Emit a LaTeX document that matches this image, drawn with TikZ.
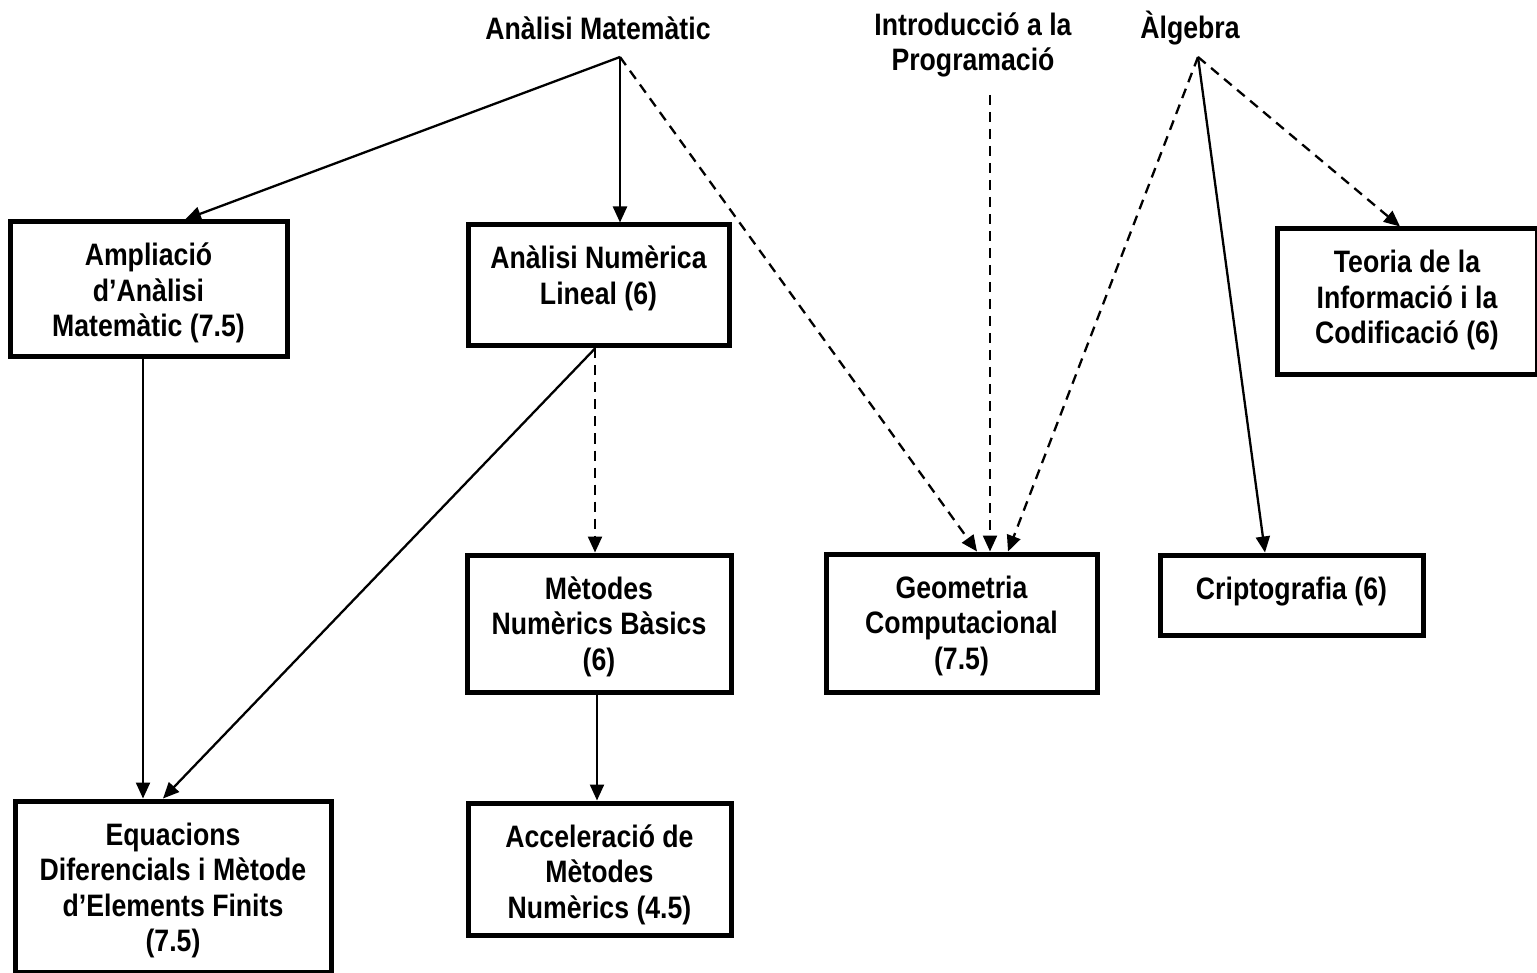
\documentclass[tikz,border=0pt]{standalone}
\usepackage{fontspec}
\setmainfont{Liberation Sans}[FakeStretch=0.86]
\usetikzlibrary{arrows.meta,calc}
\newcommand\bxt[3]{\parbox[t][#2pt][t]{#1pt}{\centering\bfseries\fontsize{31}{35.5}\selectfont\rule{0pt}{44pt}#3}}
\begin{document}
\begin{tikzpicture}[x=1pt,y=-1pt,
  box/.style={draw, line width=5pt, inner sep=0pt, outer sep=0pt, anchor=north west},
  lbl/.style={font=\bfseries\fontsize{31}{35.5}\selectfont, align=center, inner sep=0pt},
  arr/.style={line width=2.3pt, -{Triangle[length=16pt,width=14pt]}},
  dsh/.style={arr, dash pattern=on 10pt off 7pt},
]
\useasboundingbox (0,0) rectangle (1537,973);

% top labels
\node[lbl] (am) at (598,28) {Anàlisi Matemàtic};
\node[lbl] (ip) at (973,45) {Introducció a la\\Programació};
\node[lbl] (alg) at (1190,28) {Àlgebra};
\coordinate (amx) at (620,57);
\coordinate (ipx) at (990,95);
\coordinate (algx) at (1198,57);

% boxes
\node[box] (ampl) at (10,222) {\bxt{277}{135}{Ampliació\\d’Anàlisi\\Matemàtic (7.5)}};
\node[box] (anl) at (468,225) {\bxt{261}{121}{Anàlisi Numèrica\\Lineal (6)}};
\node[box] (teo) at (1277,229) {\bxt{260}{146}{Teoria de la\\Informació i la\\Codificació (6)}};
\node[box] (met) at (467,555) {\bxt{264}{137}{Mètodes\\Numèrics Bàsics\\(6)}};
\node[box] (geo) at (826,554) {\bxt{271}{138}{Geometria\\Computacional\\(7.5)}};
\node[box] (cri) at (1160,555) {\bxt{263}{80}{Criptografia (6)}};
\node[box] (equ) at (15,801) {\bxt{316}{171}{Equacions\\Diferencials i Mètode\\d’Elements Finits\\(7.5)}};
\node[box] (acc) at (468,803) {\bxt{263}{132}{Acceleració de\\Mètodes\\Numèrics (4.5)}};

% connectors
\draw[arr] (amx) -- ($(ampl.north west)+(175,-2.5)$);
\draw[arr] (amx) -- ($(anl.north -| amx)+(0,-2.5)$);
\draw[dsh] (amx) -- ($(geo.north west)+(151,-2.5)$);
\draw[dsh] (ipx) -- ($(geo.north west)+(164,-2.5)$);
\draw[dsh] (algx) -- ($(geo.north west)+(182,-2.5)$);
\draw[arr] (algx) -- ($(cri.north west)+(105,-2.5)$);
\draw[dsh] (algx) -- ($(teo.north west)+(123,-2.5)$);
\draw[arr] ($(ampl.south west)+(133,2.5)$) -- ($(equ.north west)+(128,-2.5)$);
\coordinate (anlb) at ($(anl.south west)+(127,2.5)$);
\draw[arr] (anlb) -- ($(equ.north west)+(148,-2.5)$);
\draw[dsh] (anlb) -- ($(met.north west)+(128,-2.5)$);
\draw[arr] ($(met.south west)+(130,2.5)$) -- ($(acc.north west)+(129,-2.5)$);
\end{tikzpicture}
\end{document}
